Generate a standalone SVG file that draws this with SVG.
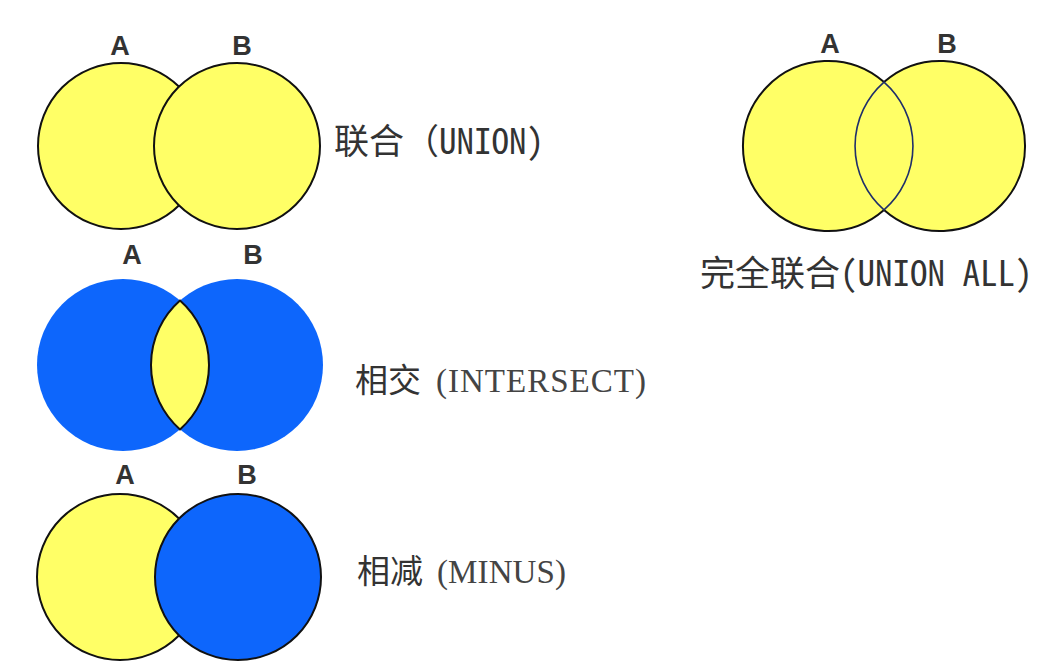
<svg xmlns="http://www.w3.org/2000/svg" width="1041" height="670" viewBox="0 0 1041 670">
<style>
.bg{fill:#ffffff}
.y{fill:#FFFF66}
.b{fill:#0D66FC}
.st{stroke:#111;stroke-width:2}
.lbl{font-family:"Liberation Sans",Arial,sans-serif;font-weight:bold;font-size:27px;fill:#333;text-anchor:middle}
.cap{font-family:"Noto Sans Mono CJK SC","Noto Sans CJK SC",monospace;font-size:35px;fill:#333}
.cn{font-family:"Noto Sans CJK SC",sans-serif;font-size:33px;fill:#333}
.mono{font-family:"Liberation Serif","Times New Roman",serif;font-size:33px;fill:#444}
</style>
<rect class="bg" width="1041" height="670"/>
<g id="union">
  <circle class="y st" cx="121" cy="146" r="83"/>
  <circle class="y st" cx="237" cy="146" r="83"/>
  <text class="lbl" x="120" y="55">A</text>
  <text class="lbl" x="242" y="55">B</text>
  <text class="cap" x="334" y="154">联合（UNION)</text>
</g>
<g id="intersect">
  <circle class="b" cx="123" cy="365" r="86"/>
  <circle class="b" cx="237" cy="365" r="86"/>
  <path class="y" d="M180,300.6 A86,86 0 0 1 180,429.4 A86,86 0 0 1 180,300.6 Z" stroke="#111" stroke-width="2"/>
  <text class="lbl" x="132" y="264">A</text>
  <text class="lbl" x="253" y="264">B</text>
  <text x="355" y="392"><tspan class="cn">相交</tspan><tspan class="mono" x="436" textLength="210" lengthAdjust="spacing">(INTERSECT)</tspan></text>
</g>
<g id="minus">
  <circle class="y st" cx="120" cy="577" r="83"/>
  <circle class="b st" cx="238" cy="577" r="83"/>
  <text class="lbl" x="125" y="484">A</text>
  <text class="lbl" x="247" y="484">B</text>
  <text x="357" y="583"><tspan class="cn">相减</tspan><tspan class="mono" x="437" textLength="129" lengthAdjust="spacing">(MINUS)</tspan></text>
</g>
<g id="union-all">
  <circle class="y" cx="828" cy="146" r="85"/>
  <circle class="y" cx="940" cy="146" r="85"/>
  <path d="M884,82.1 A85,85 0 1 0 884,209.9 M884,82.1 A85,85 0 1 1 884,209.9" fill="none" stroke="#111" stroke-width="2"/>
  <path d="M884,82.1 A85,85 0 0 1 884,209.9 A85,85 0 0 1 884,82.1 Z" fill="none" stroke="#1F2F6A" stroke-width="1.6"/>
  <text class="lbl" x="830" y="53">A</text>
  <text class="lbl" x="947" y="53">B</text>
  <text class="cap" x="700" y="286">完全联合(UNION ALL)</text>
</g>
</svg>
